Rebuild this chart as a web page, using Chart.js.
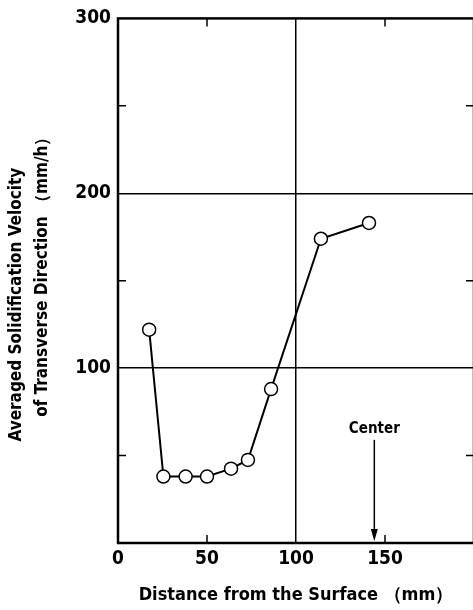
<!DOCTYPE html>
<html>
<head>
<meta charset="utf-8">
<script src="https://cdn.jsdelivr.net/npm/chart.js@4"></script>
<style>
  html, body { margin: 0; padding: 0; background: #fff; overflow: hidden; }
  #wrap { width: 482px; height: 610px; }
</style>
</head>
<body>
<div id="wrap"><canvas id="velocityChart"></canvas></div>
<script>
// data
const distance = [17.5, 25.5, 38, 50, 63.5, 73, 86, 114, 141];
const velocity = [122, 38, 38, 38, 42.5, 47.5, 88, 174, 183];

const xLabels = [0, 50, 100, 150];
const yLabels = [100, 200, 300];
const xGrid = [100];
const yGrid = [100, 200];
const xMinor = [50, 150];
const yMinor = [50, 150, 250];

const centerAt = 144;
const centerText = 'Center';

const FONT = "'Liberation Sans Narrow', 'DejaVu Sans Condensed', 'Roboto', sans-serif";

const framePlugin = {
    id: 'frame',
    afterDraw(chart) {
        const { ctx, chartArea: a, scales: { x, y } } = chart;
        ctx.save();
        ctx.strokeStyle = '#000';
        ctx.lineWidth = 2.5;
        ctx.strokeRect(a.left, a.top, a.right - a.left, a.bottom - a.top);

        // small inward ticks
        ctx.lineWidth = 1.5;
        ctx.beginPath();
        xMinor.forEach(v => {
            const px = x.getPixelForValue(v);
            ctx.moveTo(px, a.bottom); ctx.lineTo(px, a.bottom - 8);
            ctx.moveTo(px, a.top); ctx.lineTo(px, a.top + 8);
        });
        yMinor.forEach(v => {
            const py = y.getPixelForValue(v);
            ctx.moveTo(a.left, py); ctx.lineTo(a.left + 8, py);
            ctx.moveTo(a.right, py); ctx.lineTo(a.right - 8, py);
        });
        ctx.stroke();

        // "Center" arrow
        const cx = x.getPixelForValue(centerAt);
        const top = y.getPixelForValue(59);
        const tip = y.getPixelForValue(0) - 2;
        ctx.lineWidth = 1.5;
        ctx.beginPath();
        ctx.moveTo(cx, top);
        ctx.lineTo(cx, tip - 8);
        ctx.stroke();
        ctx.beginPath();
        ctx.moveTo(cx - 3.5, tip - 12);
        ctx.lineTo(cx + 3.5, tip - 12);
        ctx.lineTo(cx, tip);
        ctx.closePath();
        ctx.fillStyle = '#000';
        ctx.fill();

        ctx.font = 'bold 15px ' + FONT;
        ctx.textAlign = 'center';
        ctx.textBaseline = 'bottom';
        ctx.fillText(centerText, cx, top - 3);
        ctx.restore();
    }
};

new Chart(document.getElementById('velocityChart'), {
    type: 'line',
    data: {
        datasets: [{
            data: distance.map((d, i) => ({ x: d, y: velocity[i] })),
            borderColor: '#000',
            borderWidth: 2,
            backgroundColor: '#fff',
            pointRadius: 6.5,
            pointBorderWidth: 1.5,
            pointBorderColor: '#000',
            pointBackgroundColor: '#fff',
            tension: 0
        }]
    },
    options: {
        responsive: true,
        maintainAspectRatio: false,
        animation: false,
        layout: { padding: { top: 16, right: 0, left: 0, bottom: 0 } },
        plugins: {
            legend: { display: false },
            tooltip: { enabled: false }
        },
        scales: {
            x: {
                type: 'linear',
                min: 0,
                max: 200,
                afterFit: s => { s.height = 67; },
                border: { display: false },
                grid: {
                    drawTicks: false,
                    color: c => xGrid.includes(c.tick.value) ? '#000' : 'transparent',
                    lineWidth: 1.5
                },
                ticks: {
                    stepSize: 50,
                    padding: 5,
                    color: '#000',
                    font: { family: FONT, size: 19, weight: 'bold' },
                    callback: v => xLabels.includes(v) ? String(v) : null
                },
                title: {
                    display: true,
                    text: 'Distance from the Surface （mm）',
                    color: '#000',
                    font: { family: FONT, size: 18, weight: 'bold' },
                    padding: { top: 8 }
                }
            },
            y: {
                min: 0,
                max: 300,
                afterFit: s => { s.width = 118; },
                border: { display: false },
                grid: {
                    drawTicks: false,
                    color: c => yGrid.includes(c.tick.value) ? '#000' : 'transparent',
                    lineWidth: 1.5
                },
                ticks: {
                    stepSize: 50,
                    padding: 7,
                    color: '#000',
                    font: { family: FONT, size: 19, weight: 'bold' },
                    callback: v => yLabels.includes(v) ? String(v) : null
                },
                title: {
                    display: true,
                    text: ['Averaged Solidification Velocity         ', '   of Transverse Direction （mm/h）'],
                    color: '#000',
                    font: { family: FONT, size: 17, weight: 'bold', lineHeight: 1.5 },
                    padding: { top: 4, bottom: 0 }
                }
            }
        }
    },
    plugins: [framePlugin]
});
</script>
</body>
</html>
